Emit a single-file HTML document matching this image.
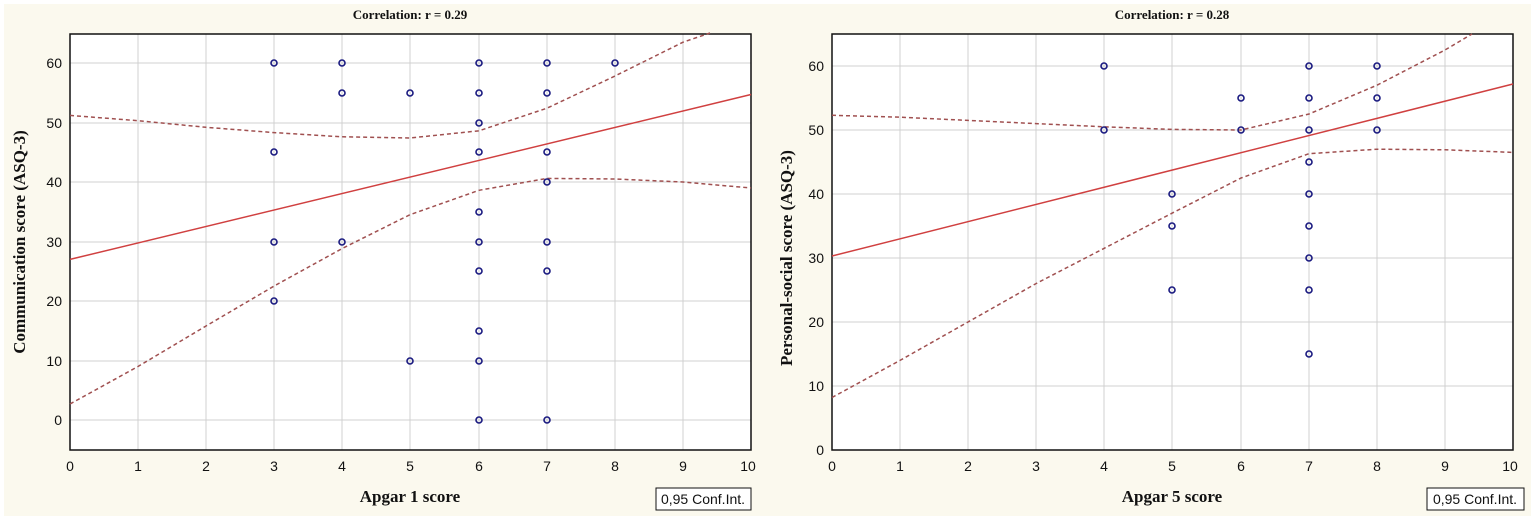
<!DOCTYPE html>
<html><head><meta charset="utf-8"><style>
body{margin:0;background:#fff;}
svg{display:block;}
.t{font-family:"Liberation Sans",sans-serif;font-size:14px;fill:#111;}
.b{font-family:"Liberation Serif",serif;font-weight:bold;fill:#111;}
</style></head><body>
<svg width="1535" height="520" xmlns="http://www.w3.org/2000/svg">
<rect x="4" y="4" width="1527" height="512" fill="#fbf9ee"/>
<g id="L">
<rect x="70" y="34" width="681" height="416" fill="#fff"/>
<g stroke="#d0d0d0" stroke-width="1">
<line x1="138" y1="34" x2="138" y2="450"/><line x1="206" y1="34" x2="206" y2="450"/><line x1="274" y1="34" x2="274" y2="450"/><line x1="342" y1="34" x2="342" y2="450"/><line x1="410" y1="34" x2="410" y2="450"/><line x1="479" y1="34" x2="479" y2="450"/><line x1="547" y1="34" x2="547" y2="450"/><line x1="615" y1="34" x2="615" y2="450"/><line x1="683" y1="34" x2="683" y2="450"/>
<line x1="70" y1="63" x2="751" y2="63"/><line x1="70" y1="123" x2="751" y2="123"/><line x1="70" y1="182" x2="751" y2="182"/><line x1="70" y1="242" x2="751" y2="242"/><line x1="70" y1="301" x2="751" y2="301"/><line x1="70" y1="361" x2="751" y2="361"/><line x1="70" y1="420" x2="751" y2="420"/>
</g>
<rect x="70" y="34" width="681" height="416" fill="none" stroke="#111" stroke-width="1.5"/>
<polyline fill="none" stroke="#a05050" stroke-width="1.5" stroke-dasharray="4,3" points="70,115.4 138,120.7 206,127.3 274,132.6 342,136.8 410,138 479,130.8 547,108.2 615,76 683,42.2 710,33"/>
<polyline fill="none" stroke="#a05050" stroke-width="1.5" stroke-dasharray="4,3" points="70,404 138,366.5 206,326 274,286.1 342,248.6 410,214.7 479,190.3 547,178.4 615,179 683,182 751,188"/>
<line x1="70" y1="259.4" x2="751" y2="94.5" stroke="#d04040" stroke-width="1.5"/>
<g fill="none" stroke="#1a1a80" stroke-width="1.6">
<circle cx="274" cy="63" r="3"/><circle cx="274" cy="152" r="3"/><circle cx="274" cy="242" r="3"/><circle cx="274" cy="301" r="3"/>
<circle cx="342" cy="63" r="3"/><circle cx="342" cy="93" r="3"/><circle cx="342" cy="242" r="3"/>
<circle cx="410" cy="93" r="3"/><circle cx="410" cy="361" r="3"/>
<circle cx="479" cy="63" r="3"/><circle cx="479" cy="93" r="3"/><circle cx="479" cy="123" r="3"/><circle cx="479" cy="152" r="3"/><circle cx="479" cy="212" r="3"/><circle cx="479" cy="242" r="3"/><circle cx="479" cy="271" r="3"/><circle cx="479" cy="331" r="3"/><circle cx="479" cy="361" r="3"/><circle cx="479" cy="420" r="3"/>
<circle cx="547" cy="63" r="3"/><circle cx="547" cy="93" r="3"/><circle cx="547" cy="152" r="3"/><circle cx="547" cy="182" r="3"/><circle cx="547" cy="242" r="3"/><circle cx="547" cy="271" r="3"/><circle cx="547" cy="420" r="3"/>
<circle cx="615" cy="63" r="3"/>
</g>
<g class="t" text-anchor="end"><text x="62" y="68">60</text><text x="62" y="128">50</text><text x="62" y="187">40</text><text x="62" y="247">30</text><text x="62" y="306">20</text><text x="62" y="366">10</text><text x="62" y="425">0</text></g>
<g class="t" text-anchor="middle"><text x="70" y="471">0</text><text x="138" y="471">1</text><text x="206" y="471">2</text><text x="274" y="471">3</text><text x="342" y="471">4</text><text x="410" y="471">5</text><text x="479" y="471">6</text><text x="547" y="471">7</text><text x="615" y="471">8</text><text x="683" y="471">9</text><text x="748" y="471">10</text></g>
<text class="b" x="410" y="19" font-size="13" text-anchor="middle">Correlation: r = 0.29</text>
<text class="b" x="410" y="502" font-size="17" text-anchor="middle">Apgar 1 score</text>
<text class="b" font-size="17" text-anchor="middle" transform="translate(25,242) rotate(-90)">Communication score (ASQ-3)</text>
<rect x="656" y="488" width="95" height="22" fill="#fff" stroke="#111"/>
<text class="t" x="703" y="504" text-anchor="middle">0,95 Conf.Int.</text>
</g>
<g id="R">
<rect x="832" y="34" width="681" height="416" fill="#fff"/>
<g stroke="#d0d0d0" stroke-width="1">
<line x1="900" y1="34" x2="900" y2="450"/><line x1="968" y1="34" x2="968" y2="450"/><line x1="1036" y1="34" x2="1036" y2="450"/><line x1="1104" y1="34" x2="1104" y2="450"/><line x1="1172" y1="34" x2="1172" y2="450"/><line x1="1241" y1="34" x2="1241" y2="450"/><line x1="1309" y1="34" x2="1309" y2="450"/><line x1="1377" y1="34" x2="1377" y2="450"/><line x1="1445" y1="34" x2="1445" y2="450"/>
<line x1="832" y1="66" x2="1513" y2="66"/><line x1="832" y1="130" x2="1513" y2="130"/><line x1="832" y1="194" x2="1513" y2="194"/><line x1="832" y1="258" x2="1513" y2="258"/><line x1="832" y1="322" x2="1513" y2="322"/><line x1="832" y1="386" x2="1513" y2="386"/>
</g>
<rect x="832" y="34" width="681" height="416" fill="none" stroke="#111" stroke-width="1.5"/>
<polyline fill="none" stroke="#a05050" stroke-width="1.5" stroke-dasharray="4,3" points="832,115.3 900,117.2 968,120.4 1036,123.6 1104,126.8 1172,129.4 1241,130 1309,114 1377,85.2 1445,50 1472,34"/>
<polyline fill="none" stroke="#a05050" stroke-width="1.5" stroke-dasharray="4,3" points="832,397.5 900,360.4 968,322 1036,283.6 1104,248.4 1172,213.2 1241,178 1309,153.7 1377,149.2 1445,149.8 1513,152.4"/>
<line x1="832" y1="256" x2="1513" y2="84" stroke="#d04040" stroke-width="1.5"/>
<g fill="none" stroke="#1a1a80" stroke-width="1.6">
<circle cx="1104" cy="66" r="3"/><circle cx="1104" cy="130" r="3"/>
<circle cx="1172" cy="194" r="3"/><circle cx="1172" cy="226" r="3"/><circle cx="1172" cy="290" r="3"/>
<circle cx="1241" cy="98" r="3"/><circle cx="1241" cy="130" r="3"/>
<circle cx="1309" cy="66" r="3"/><circle cx="1309" cy="98" r="3"/><circle cx="1309" cy="130" r="3"/><circle cx="1309" cy="162" r="3"/><circle cx="1309" cy="194" r="3"/><circle cx="1309" cy="226" r="3"/><circle cx="1309" cy="258" r="3"/><circle cx="1309" cy="290" r="3"/><circle cx="1309" cy="354" r="3"/>
<circle cx="1377" cy="66" r="3"/><circle cx="1377" cy="98" r="3"/><circle cx="1377" cy="130" r="3"/>
</g>
<g class="t" text-anchor="end"><text x="824" y="71">60</text><text x="824" y="135">50</text><text x="824" y="199">40</text><text x="824" y="263">30</text><text x="824" y="327">20</text><text x="824" y="391">10</text><text x="824" y="455">0</text></g>
<g class="t" text-anchor="middle"><text x="832" y="471">0</text><text x="900" y="471">1</text><text x="968" y="471">2</text><text x="1036" y="471">3</text><text x="1104" y="471">4</text><text x="1172" y="471">5</text><text x="1241" y="471">6</text><text x="1309" y="471">7</text><text x="1377" y="471">8</text><text x="1445" y="471">9</text><text x="1510" y="471">10</text></g>
<text class="b" x="1172" y="19" font-size="13" text-anchor="middle">Correlation: r = 0.28</text>
<text class="b" x="1172" y="502" font-size="17" text-anchor="middle">Apgar 5 score</text>
<text class="b" font-size="17" text-anchor="middle" transform="translate(792,258) rotate(-90)">Personal-social score (ASQ-3)</text>
<rect x="1427" y="488" width="97" height="22" fill="#fff" stroke="#111"/>
<text class="t" x="1475" y="504" text-anchor="middle">0,95 Conf.Int.</text>
</g>
</svg>
</body></html>
